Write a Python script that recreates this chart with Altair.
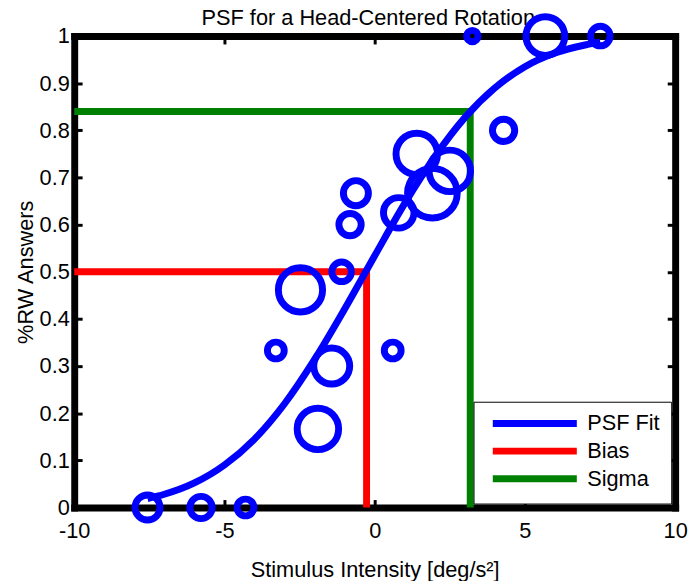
import altair as alt
import pandas as pd

# ---- data ----
stim_x = [-7.56, -5.78, -4.30, -3.29, -2.47, -1.89, -1.43, -1.10, -0.82, -0.625,
          0.60, 0.80, 1.40, 1.92, 2.50, 3.25, 4.29, 5.68, 7.51]
prop_rw = [0.0, 0.0, 0.0, 0.333, 0.4615, 0.1667, 0.3, 0.5, 0.6, 0.6667,
           0.333, 0.625, 0.75, 0.6667, 0.714, 1.0, 0.8, 1.0, 1.0]
n_trials = [6, 5, 3, 3, 13, 12, 10, 4, 5, 6,
            3, 8, 12, 15, 12, 1, 5, 11, 4]

fit_x = [-7.56, -7, -6, -5, -4, -3, -2, -1, 0, 1, 2, 3, 4, 5, 6, 7, 7.51]
fit_y = [0.019, 0.028, 0.052, 0.09, 0.145, 0.22, 0.314, 0.421, 0.534,
         0.645, 0.744, 0.827, 0.89, 0.935, 0.964, 0.981, 0.987]

bias_x = [-10, -0.27, -0.27]
bias_y = [0.5, 0.5, 0.0]
sigma_x = [-10, 3.18, 3.18]
sigma_y = [0.84, 0.84, 0.0]

series_names = ["PSF Fit", "Bias", "Sigma"]
series_colors = ["#0000ff", "#ff0000", "#008000"]

x_ticks = [-10, -5, 0, 5, 10]
y_ticks = [0, 0.1, 0.2, 0.3, 0.4, 0.5, 0.6, 0.7, 0.8, 0.9, 1]

FONT = "Liberation Sans"
FS = 22

points_df = pd.DataFrame({"x": stim_x, "y": prop_rw, "n": n_trials})
fit_df = pd.DataFrame({"x": fit_x, "y": fit_y, "series": "PSF Fit", "i": list(range(len(fit_x)))})
bias_df = pd.DataFrame({"x": bias_x, "y": bias_y, "series": "Bias", "i": [0, 1, 2]})
sigma_df = pd.DataFrame({"x": sigma_x, "y": sigma_y, "series": "Sigma", "i": [0, 1, 2]})

xs = alt.Scale(domain=[-10, 10], nice=False, zero=False)
ys = alt.Scale(domain=[0, 1], nice=False, zero=False)

legend = alt.Legend(
    orient="none", legendX=404, legendY=370, title=None,
    symbolType="M-8.5,0H8.5", symbolSize=100, symbolStrokeWidth=7,
    labelFontSize=FS, labelFont=FONT, labelColor="black",
    labelOffset=42, symbolOffset=40,
    padding=11, rowPadding=0,
    strokeColor="black", fillColor="white",
)
color = alt.Color("series:N",
                  scale=alt.Scale(domain=series_names, range=series_colors),
                  legend=legend)

tick_common = dict(offset=-8, domain=False, ticks=True, tickSize=8, tickWidth=3,
                   tickColor="black", grid=False)
frame_common = dict(domain=True, domainColor="black", domainWidth=7, domainCap="square",
                    ticks=False, tickSize=0, labels=False, grid=False)

x_axis_bottom = alt.Axis(orient="bottom", values=x_ticks, labels=True,
                         labelExpr="datum.value + ''", labelFontSize=FS, labelFont=FONT,
                         labelColor="black", labelPadding=13, labelOverlap=False,
                         labelFlush=False,
                         title="Stimulus Intensity [deg/s²]", titleFontSize=FS,
                         titleFont=FONT, titleFontWeight="normal", titleColor="black",
                         titlePadding=19, **tick_common)
y_axis_left = alt.Axis(orient="left", values=y_ticks, labels=True,
                       labelExpr="datum.value + ''", labelFontSize=FS, labelFont=FONT,
                       labelColor="black", labelPadding=5, labelOverlap=False,
                       labelFlush=False,
                       title="%RW Answers", titleFontSize=FS, titleFont=FONT,
                       titleFontWeight="normal", titleColor="black", titlePadding=2,
                       **tick_common)
x_axis_top = alt.Axis(orient="top", values=x_ticks, labels=False, title=None, **tick_common)
y_axis_right = alt.Axis(orient="right", values=y_ticks, labels=False, title=None, **tick_common)

x_frame_bottom = alt.Axis(orient="bottom", values=x_ticks, title=None, **frame_common)
y_frame_left = alt.Axis(orient="left", values=y_ticks, title=None, **frame_common)
x_frame_top = alt.Axis(orient="top", values=x_ticks,
                       title="PSF for a Head-Centered Rotation", titleFontSize=FS,
                       titleFont=FONT, titleFontWeight="normal", titleColor="black",
                       titlePadding=7, titleX=297, **frame_common)
y_frame_right = alt.Axis(orient="right", values=y_ticks, title=None, **frame_common)

bias_layer = alt.Chart(bias_df).mark_line(strokeWidth=7).encode(
    x=alt.X("x:Q", scale=xs, axis=x_axis_bottom),
    y=alt.Y("y:Q", scale=ys, axis=y_axis_left),
    order="i:Q",
    color=color,
)
sigma_layer = alt.Chart(sigma_df).mark_line(strokeWidth=7).encode(
    x=alt.X("x:Q", scale=xs, axis=x_axis_top),
    y=alt.Y("y:Q", scale=ys, axis=y_axis_right),
    order="i:Q",
    color=color,
)
points_layer = alt.Chart(points_df).transform_calculate(
    msize="pow(8.7 + 2.77 * datum.n, 2)"
).mark_point(shape="circle", filled=False, stroke="#0000ff", strokeWidth=7, opacity=1).encode(
    x=alt.X("x:Q", scale=xs, axis=x_frame_bottom),
    y=alt.Y("y:Q", scale=ys, axis=y_frame_left),
    size=alt.Size("msize:Q", scale=None),
)
curve_layer = alt.Chart(fit_df).mark_line(strokeWidth=7, interpolate="monotone").encode(
    x=alt.X("x:Q", scale=xs, axis=x_frame_top),
    y=alt.Y("y:Q", scale=ys, axis=y_frame_right),
    order="i:Q",
    color=color,
)

chart = alt.layer(bias_layer, sigma_layer, points_layer, curve_layer).resolve_axis(
    x="independent", y="independent"
).properties(
    width=608, height=477,
    autosize=alt.AutoSizeParams(type="none"),
    padding={"left": 67, "top": 25, "right": 13, "bottom": 71},
).configure_view(strokeWidth=0).configure_legend(strokeWidth=7).configure(font=FONT)

chart.save("out.html", embed_options={"renderer": "svg", "actions": False})
